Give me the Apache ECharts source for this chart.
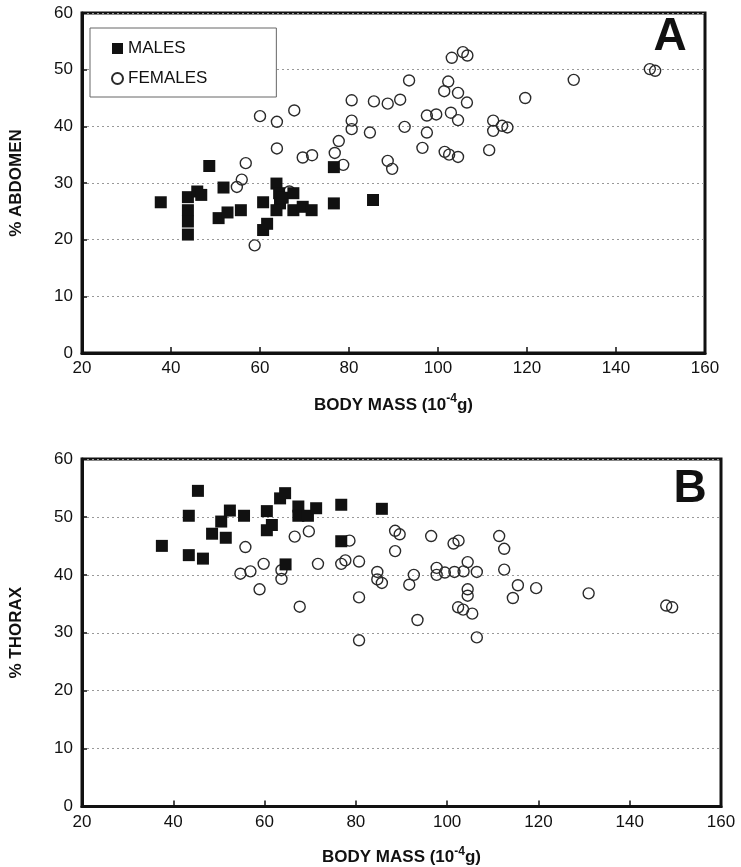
<!DOCTYPE html>
<html>
<head>
<meta charset="utf-8">
<title>Abdomen and thorax share of body mass</title>
<script src="https://cdn.jsdelivr.net/npm/echarts@6.0.0/dist/echarts.min.js"></script>
<style>
  html, body { margin: 0; padding: 0; background: #fff; }
  #chart { width: 741px; height: 867px; }
</style>
</head>
<body>
<div id="chart"></div>
<script>
// points are [body mass (10^-4 g), percent]
var malesAbdomen = [
  [37.7, 26.6], [43.8, 27.5], [43.8, 25.2], [43.8, 23.2], [43.8, 20.9], [45.9, 28.5],
  [46.8, 27.9], [48.6, 33.0], [51.8, 29.2], [50.7, 23.8], [52.7, 24.8], [55.7, 25.2],
  [60.7, 26.6], [60.7, 21.7], [61.6, 22.8], [63.7, 29.9], [64.3, 28.2], [64.5, 26.4],
  [63.7, 25.2], [65.1, 27.4], [67.5, 28.2], [67.5, 25.2], [69.6, 25.8], [71.6, 25.2],
  [76.6, 32.8], [76.6, 26.4], [85.4, 27.0]
];
var femalesAbdomen = [
  [58.8, 19.0], [54.8, 29.3], [55.9, 30.6], [56.8, 33.5], [60.0, 41.8], [63.8, 40.8],
  [63.8, 36.1], [67.7, 42.8], [66.6, 28.5], [69.6, 34.5], [71.7, 34.9], [76.8, 35.3],
  [77.7, 37.4], [78.7, 33.2], [80.6, 44.6], [80.6, 41.0], [80.6, 39.5], [84.7, 38.9],
  [85.6, 44.4], [88.7, 44.0], [91.5, 44.7], [93.5, 48.1], [92.5, 39.9], [88.7, 33.9],
  [89.7, 32.5], [96.5, 36.2], [97.5, 41.9], [99.6, 42.1], [97.5, 38.9], [101.4, 46.2],
  [102.3, 47.9], [103.1, 52.1], [105.6, 53.1], [106.6, 52.5], [102.9, 42.4], [101.5, 35.5],
  [102.5, 35.0], [104.5, 34.6], [104.5, 45.9], [106.5, 44.2], [104.5, 41.1], [111.5, 35.8],
  [112.4, 41.0], [112.4, 39.2], [114.4, 40.1], [115.6, 39.8], [119.6, 45.0], [130.5, 48.2],
  [147.6, 50.1], [148.8, 49.8]
];
var malesThorax = [
  [45.4, 54.5], [43.4, 50.2], [37.5, 45.0], [43.4, 43.4], [46.5, 42.8], [48.5, 47.1],
  [50.5, 49.2], [52.4, 51.1], [51.5, 46.4], [55.5, 50.2], [60.5, 51.0], [60.5, 47.7],
  [61.6, 48.6], [63.4, 53.2], [64.5, 54.1], [64.6, 41.8], [67.4, 51.8], [67.4, 50.2],
  [69.5, 50.2], [71.3, 51.5], [76.8, 52.1], [76.8, 45.8], [85.7, 51.4]
];
var femalesThorax = [
  [55.8, 44.8], [54.7, 40.2], [56.9, 40.6], [59.8, 41.9], [58.9, 37.5], [63.7, 40.8],
  [63.7, 39.3], [66.6, 46.6], [69.7, 47.5], [71.7, 41.9], [67.7, 34.5], [78.6, 45.9],
  [76.8, 41.9], [77.7, 42.5], [80.7, 42.3], [80.7, 36.1], [80.7, 28.7], [88.6, 47.6],
  [89.6, 47.0], [88.6, 44.1], [84.7, 40.5], [84.7, 39.2], [85.7, 38.6], [92.7, 40.0],
  [91.7, 38.3], [93.5, 32.2], [96.5, 46.7], [97.7, 41.2], [97.7, 40.0], [99.5, 40.4],
  [101.6, 40.5], [103.6, 40.6], [104.5, 42.2], [106.5, 40.5], [101.4, 45.4], [102.5, 45.9],
  [104.5, 37.5], [104.5, 36.4], [102.4, 34.4], [103.5, 34.0], [105.5, 33.3], [106.5, 29.2],
  [111.4, 46.7], [112.5, 44.5], [112.5, 40.9], [115.5, 38.2], [114.4, 36.0], [119.5, 37.7],
  [131.0, 36.8], [148.0, 34.7], [149.3, 34.4]
];
var seriesNames = ["MALES", "FEMALES"];
var yTitles = ["% ABDOMEN", "% THORAX"];
var panelLetters = ["A", "B"];

var chart = echarts.init(document.getElementById("chart"));
var font = "'Liberation Sans', Arial, sans-serif";
var ink = "#111";

function xAxisFor(i) {
  return {
    gridIndex: i,
    type: "value",
    min: 20, max: 160, interval: 20,
    name: "{b|BODY MASS (10}{s|-4}{b|g)}",
    nameLocation: "middle",
    nameGap: i === 0 ? 40 : 39,
    nameTextStyle: {
      rich: {
        b: { fontFamily: font, fontSize: 17, fontWeight: "bold", color: ink },
        s: { fontFamily: font, fontSize: 12, fontWeight: "bold", color: ink, padding: [0, 0, 12, 0] }
      }
    },
    axisLine: { show: true, lineStyle: { color: ink, width: 3 } },
    axisTick: { inside: true, length: 6, lineStyle: { color: ink, width: 1.5 } },
    axisLabel: { fontFamily: font, fontSize: 17, color: ink, margin: 7 },
    splitLine: { show: false }
  };
}

function yAxisFor(i) {
  return {
    gridIndex: i,
    type: "value",
    min: 0, max: 60, interval: 10,
    name: yTitles[i],
    nameLocation: "middle",
    nameGap: 57,
    nameTextStyle: { fontFamily: font, fontSize: 17, fontWeight: "bold", color: ink },
    axisLine: { show: true, lineStyle: { color: ink, width: 3 } },
    axisTick: { inside: true, length: 5, lineStyle: { color: ink, width: 1.5 } },
    axisLabel: { fontFamily: font, fontSize: 17, color: ink, margin: 9 },
    splitLine: { show: true, lineStyle: { color: "#999", type: [2, 3], width: 1 } }
  };
}

function males(data, i) {
  return {
    name: seriesNames[0], type: "scatter", xAxisIndex: i, yAxisIndex: i,
    symbol: "rect", symbolSize: 12, z: 3,
    itemStyle: { color: ink, opacity: 1 },
    data: data
  };
}

function females(data, i) {
  return {
    name: seriesNames[1], type: "scatter", xAxisIndex: i, yAxisIndex: i,
    symbol: "circle", symbolSize: 11, z: 2,
    itemStyle: { color: "rgba(255,255,255,0)", borderColor: "#2a2a2a", borderWidth: 1.4, opacity: 1 },
    data: data
  };
}

var option = {
  backgroundColor: "#fff",
  animation: false,
  grid: [
    { left: 77, right: 36, top: 13, bottom: 514, show: true, borderColor: ink, borderWidth: 3 },
    { left: 77, right: 20, top: 459, bottom: 57, show: true, borderColor: ink, borderWidth: 3 }
  ],
  xAxis: [xAxisFor(0), xAxisFor(1)],
  yAxis: [yAxisFor(0), yAxisFor(1)],
  legend: {
    data: seriesNames,
    orient: "vertical",
    left: 90, top: 28,
    padding: [12, 69, 10, 21],
    itemGap: 13,
    itemWidth: 11, itemHeight: 11,
    backgroundColor: "#fff",
    borderColor: "#666", borderWidth: 1,
    textStyle: { fontFamily: font, fontSize: 17, color: ink }
  },
  graphic: [
    { type: "text", x: 670, y: 37, style: { text: panelLetters[0], font: "bold 46px " + font, fill: ink, textAlign: "center", textVerticalAlign: "middle" } },
    { type: "text", x: 690, y: 489, style: { text: panelLetters[1], font: "bold 46px " + font, fill: ink, textAlign: "center", textVerticalAlign: "middle" } }
  ],
  series: [
    females(femalesAbdomen, 0), males(malesAbdomen, 0),
    females(femalesThorax, 1), males(malesThorax, 1)
  ]
};
chart.setOption(option);
</script>
</body>
</html>
